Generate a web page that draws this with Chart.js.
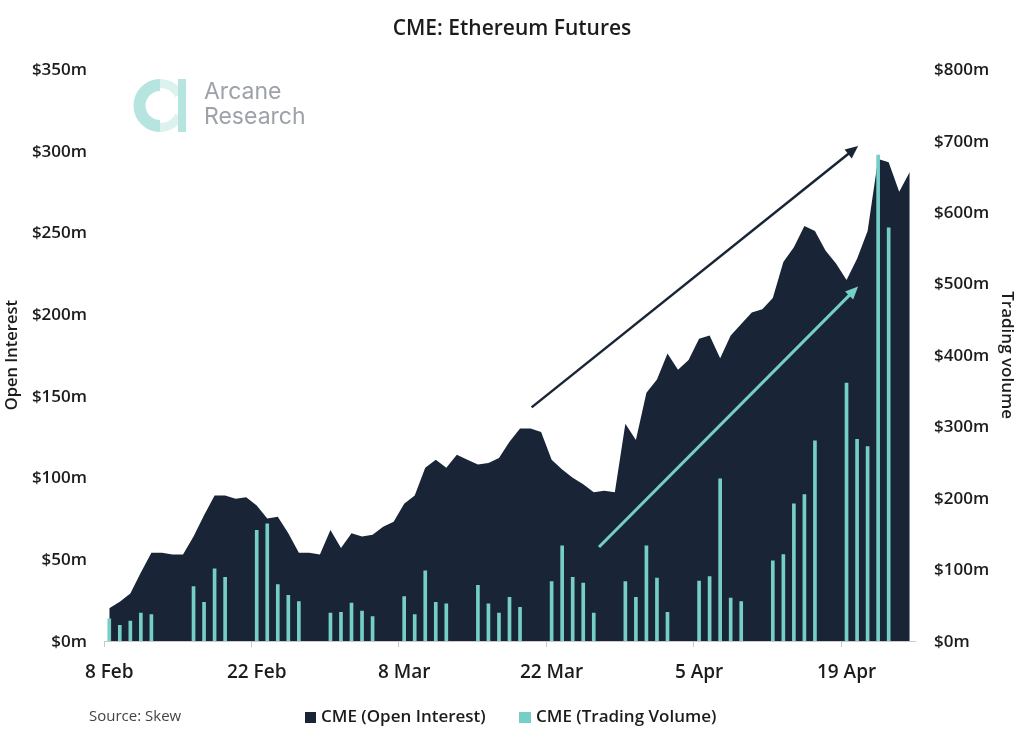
<!DOCTYPE html>
<html>
<head>
<meta charset="utf-8">
<title>CME: Ethereum Futures</title>
<script src="https://cdn.jsdelivr.net/npm/chart.js@4"></script>
<style>
  html, body { margin: 0; padding: 0; background: #fff; }
  canvas { display: block; }
</style>
</head>
<body>
<canvas id="chart" width="1024" height="734"></canvas>
<script>
const dates = [
  "8 Feb", "9 Feb", "10 Feb", "11 Feb", "12 Feb", "13 Feb", "14 Feb", "15 Feb", "16 Feb", "17 Feb", "18 Feb",
  "19 Feb", "20 Feb", "21 Feb", "22 Feb", "23 Feb", "24 Feb", "25 Feb", "26 Feb", "27 Feb", "28 Feb",
  "1 Mar", "2 Mar", "3 Mar", "4 Mar", "5 Mar", "6 Mar", "7 Mar", "8 Mar", "9 Mar", "10 Mar",
  "11 Mar", "12 Mar", "13 Mar", "14 Mar", "15 Mar", "16 Mar", "17 Mar", "18 Mar", "19 Mar", "20 Mar",
  "21 Mar", "22 Mar", "23 Mar", "24 Mar", "25 Mar", "26 Mar", "27 Mar", "28 Mar", "29 Mar", "30 Mar",
  "31 Mar", "1 Apr", "2 Apr", "3 Apr", "4 Apr", "5 Apr", "6 Apr", "7 Apr", "8 Apr", "9 Apr",
  "10 Apr", "11 Apr", "12 Apr", "13 Apr", "14 Apr", "15 Apr", "16 Apr", "17 Apr", "18 Apr", "19 Apr",
  "20 Apr", "21 Apr", "22 Apr", "23 Apr", "24 Apr", "25 Apr",
];
const shownDates = ["8 Feb", "22 Feb", "8 Mar", "22 Mar", "5 Apr", "19 Apr"];

// $m, left axis
const openInterest = [
  20, 24, 29, 42, 54, 54, 53, 53, 64, 77, 89,
  89, 87, 88, 83, 75, 76, 66, 54, 54, 53,
  68, 57, 66, 64, 65, 70, 73, 84, 89, 106,
  111, 106, 114, 111, 108, 109, 112, 122, 130, 130,
  128, 111, 105, 100, 96, 91, 92, 91, 133, 123,
  152, 160, 176, 166, 172, 185, 187, 173, 187, 194,
  201, 203, 210, 232, 241, 254, 251, 239, 231, 221,
  234, 251, 295, 293, 275, 287,
];

// $m, right axis, no print on weekends
const tradingVolume = [
  31, 22, 28, 39, 37, null, null, null, 76, 54, 101,
  89, null, null, 155, 164, 79, 64, 55, null, null,
  39, 40, 53, 42, 34, null, null, 62, 37, 98,
  54, 52, null, null, 78, 52, 39, 61, 47, null,
  null, 83, 133, 89, 81, 39, null, null, 83, 61,
  133, 88, 40, null, null, 84, 90, 227, 60, 55,
  null, null, 112, 121, 192, 205, 280, null, null, 361,
  282, 272, 680, 578, null, null,
];

const leftTicks = [0, 50, 100, 150, 200, 250, 300, 350];
const rightTicks = [0, 100, 200, 300, 400, 500, 600, 700, 800];

const seriesNames = ["CME (Open Interest)", "CME (Trading Volume)"];

// [date index, open interest] at both ends
const darkArrow = [[40.1, 143], [71.1, 303]];
const tealArrow = [[46.5, 57.5], [71.1, 217]];

const navy = "#192537";
const teal = "#76cfc7";
const textColor = "#1c1c1c";
const fontName = "'Open Sans', sans-serif";

const drawArrow = (ctx, scales, [from, to], color, width) => {
  const x1 = scales.x.getPixelForValue(from[0]);
  const y1 = scales.y.getPixelForValue(from[1]);
  const x2 = scales.x.getPixelForValue(to[0]);
  const y2 = scales.y.getPixelForValue(to[1]);
  const angle = Math.atan2(y2 - y1, x2 - x1);
  const head = 14;

  ctx.strokeStyle = color;
  ctx.fillStyle = color;
  ctx.lineWidth = width;
  ctx.beginPath();
  ctx.moveTo(x1, y1);
  ctx.lineTo(x2 - Math.cos(angle) * head * 0.8, y2 - Math.sin(angle) * head * 0.8);
  ctx.stroke();
  ctx.beginPath();
  ctx.moveTo(x2, y2);
  ctx.lineTo(x2 - head * Math.cos(angle - 0.42), y2 - head * Math.sin(angle - 0.42));
  ctx.lineTo(x2 - head * Math.cos(angle + 0.42), y2 - head * Math.sin(angle + 0.42));
  ctx.closePath();
  ctx.fill();
};

const drawLogo = (ctx) => {
  ctx.lineWidth = 9;
  ctx.strokeStyle = "#dcf2ef";
  ctx.beginPath();
  ctx.arc(160, 105.5, 22, -Math.PI / 2, -0.5);
  ctx.stroke();
  ctx.beginPath();
  ctx.arc(160, 105.5, 22, 0.5, Math.PI / 2);
  ctx.stroke();
  ctx.lineWidth = 12;
  ctx.strokeStyle = "#b6e5e0";
  ctx.beginPath();
  ctx.arc(160, 105.5, 20.5, Math.PI / 2, -Math.PI / 2);
  ctx.stroke();
  ctx.fillStyle = "#b6e5e0";
  ctx.fillRect(178, 79, 8, 53);

  ctx.fillStyle = "#9ca1aa";
  ctx.font = "23px Inter, sans-serif";
  ctx.textAlign = "left";
  ctx.textBaseline = "alphabetic";
  ctx.fillText("Arcane", 204, 99);
  ctx.fillText("Research", 204, 124);
};

const drawLegend = (ctx) => {
  ctx.font = "600 17px " + fontName;
  ctx.textAlign = "left";
  ctx.textBaseline = "middle";
  ctx.fillStyle = navy;
  ctx.fillRect(305, 712, 11, 11);
  ctx.fillStyle = teal;
  ctx.fillRect(519, 712, 12, 11);
  ctx.fillStyle = textColor;
  ctx.fillText(seriesNames[0], 321, 717);
  ctx.fillText(seriesNames[1], 536, 717);
};

const overlayPlugin = {
  id: "overlay",
  afterDraw(chart) {
    const { ctx, scales } = chart;
    ctx.save();
    drawLogo(ctx);
    drawArrow(ctx, scales, darkArrow, navy, 2.5);
    drawArrow(ctx, scales, tealArrow, teal, 3);
    drawLegend(ctx);
    ctx.fillStyle = "#444";
    ctx.font = "15px " + fontName;
    ctx.textAlign = "left";
    ctx.textBaseline = "middle";
    ctx.fillText("Source: Skew", 89, 717);
    ctx.restore();
  },
};

const tickFont = { family: fontName, size: 17, weight: "600" };

new Chart(document.getElementById("chart"), {
  data: {
    labels: dates,
    datasets: [
      {
        type: "line",
        label: seriesNames[0],
        data: openInterest,
        yAxisID: "y",
        order: 2,
        backgroundColor: navy,
        borderColor: navy,
        borderWidth: 0,
        pointRadius: 0,
        tension: 0,
        fill: "origin",
      },
      {
        type: "bar",
        label: seriesNames[1],
        data: tradingVolume,
        yAxisID: "y1",
        order: 1,
        backgroundColor: teal,
        barThickness: 3,
      },
    ],
  },
  options: {
    responsive: false,
    animation: false,
    devicePixelRatio: 1,
    layout: { padding: 0 },
    scales: {
      x: {
        offset: true,
        afterFit: (scale) => { scale.height = 93; },
        border: { color: "#c9c9c9" },
        grid: {
          offset: true,
          drawOnChartArea: false,
          tickLength: 6,
          tickColor: (context) =>
            shownDates.includes(dates[context.index]) ? "#c9c9c9" : "rgba(0,0,0,0)",
        },
        ticks: {
          autoSkip: false,
          maxRotation: 0,
          padding: 14,
          color: textColor,
          font: { family: fontName, size: 19, weight: "600" },
          callback: (value) => (shownDates.includes(dates[value]) ? dates[value] : ""),
        },
      },
      y: {
        position: "left",
        min: 0,
        max: 350,
        afterFit: (scale) => { scale.width = 104; },
        afterBuildTicks: (scale) => { scale.ticks = leftTicks.map((value) => ({ value })); },
        border: { display: false },
        grid: { display: false, drawTicks: false },
        title: {
          display: true,
          text: "Open Interest",
          color: textColor,
          padding: { top: 2, bottom: 0 },
          font: { family: fontName, size: 16.5, weight: "600" },
        },
        ticks: { padding: 17, labelOffset: 1, color: textColor, font: tickFont, callback: (v) => `$${v}m` },
      },
      y1: {
        position: "right",
        min: 0,
        max: 800,
        afterFit: (scale) => { scale.width = 109; },
        afterBuildTicks: (scale) => { scale.ticks = rightTicks.map((value) => ({ value })); },
        border: { display: false },
        grid: { display: false, drawTicks: false },
        title: {
          display: true,
          text: "Trading volume",
          color: textColor,
          padding: { top: 7, bottom: 0 },
          font: { family: fontName, size: 17, weight: "600" },
        },
        ticks: { padding: 19, labelOffset: 1, color: textColor, font: tickFont, callback: (v) => `$${v}m` },
      },
    },
    plugins: {
      tooltip: { enabled: false },
      legend: { display: false },
      title: {
        display: true,
        text: "CME: Ethereum Futures",
        color: textColor,
        padding: { top: 16, bottom: 28 },
        font: { family: fontName, size: 21, weight: "600", lineHeight: 1.2 },
      },
    },
  },
  plugins: [overlayPlugin],
});
</script>
</body>
</html>
